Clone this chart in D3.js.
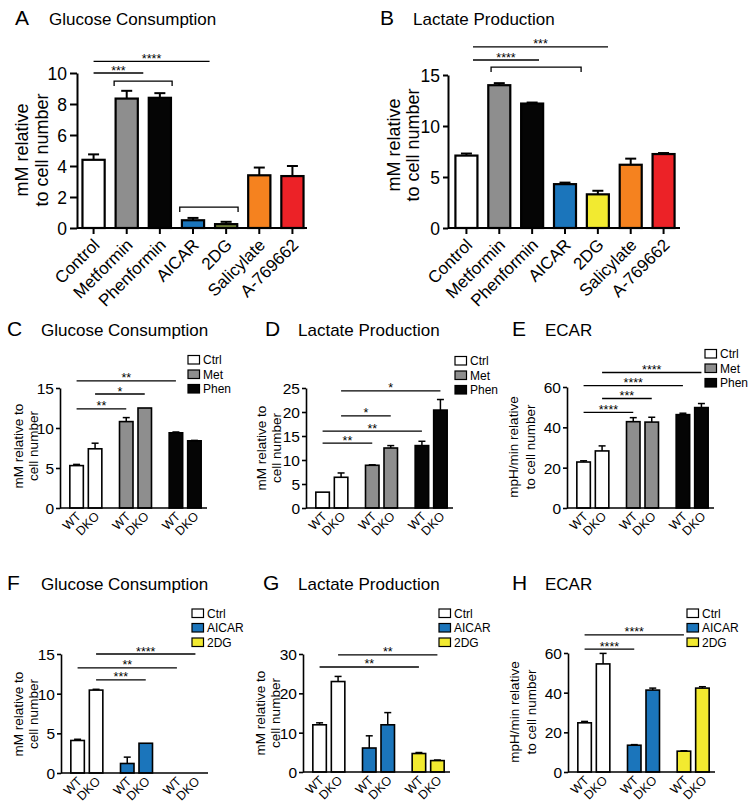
<!DOCTYPE html>
<html><head><meta charset="utf-8">
<script src="https://cdn.jsdelivr.net/npm/d3@7"></script>
<style>
body{margin:0;background:#fff}
svg{display:block}
text{font-family:"Liberation Sans",Arial,Helvetica,sans-serif;fill:#000}
</style>
</head><body>
<svg id="c" width="754" height="806"></svg>
<script>
// ---------- data ----------
const catsAB = ["Control","Metformin","Phenformin","AICAR","2DG","Salicylate","A-769662"];
const glucoseA = [4.4, 8.35, 8.4, 0.5, 0.25, 3.4, 3.35];
const glucoseAErr = [0.35, 0.5, 0.3, 0.15, 0.15, 0.5, 0.65];
const lactateB = [7.1, 14.0, 12.2, 4.3, 3.3, 6.2, 7.25];
const lactateBErr = [0.2, 0.2, 0.1, 0.15, 0.35, 0.6, 0.1];
const colorsA = ["#ffffff","#8e8e8e","#050505","#1b75bb","#74843a","#f5821f","#ec2227"];
const colorsB = ["#ffffff","#8e8e8e","#050505","#1b75bb","#f2ea30","#f5821f","#ec2227"];
const ticksA = [0,2,4,6,8,10];
const ticksB = [0,5,10,15];
const sigA = [{from:0,to:3.5,level:10.75,label:"****"},{from:0,to:1.5,level:10.0,label:"***"}];
const bracketsA = [{from:0.62,to:2.37,level:9.48},{from:2.6,to:4.36,level:1.35}];
const sigB = [{from:0.2,to:4.31,level:17.75,label:"***"},{from:0.2,to:2.21,level:16.47,label:"****"}];
const bracketsB = [{from:0.75,to:3.49,level:15.78}];

const genotypes = ["WT","DKO"];
const treatsCDE = ["Ctrl","Met","Phen"];
const treatsFGH = ["Ctrl","AICAR","2DG"];
const colorsCDE = ["#ffffff","#8e8e8e","#050505"];
const colorsFGH = ["#ffffff","#1b75bb","#f2ea30"];

// order: Ctrl WT, Ctrl DKO, Trt1 WT, Trt1 DKO, Trt2 WT, Trt2 DKO
const glucoseC = [5.3, 7.4, 10.8, 12.5, 9.4, 8.4];
const glucoseCErr = [0.15, 0.7, 0.5, 0, 0.1, 0.05];
const lactateD = [3.3, 6.4, 8.9, 12.5, 13.0, 20.4];
const lactateDErr = [0, 0.9, 0.1, 0.5, 0.9, 2.2];
const ecarE = [22.8, 28.3, 42.8, 42.6, 46.3, 49.8];
const ecarEErr = [0.6, 2.5, 2.0, 2.4, 0.7, 2.0];
const glucoseF = [4.1, 10.45, 1.2, 3.75, 0, 0];
const glucoseFErr = [0.15, 0.1, 0.8, 0, 0, 0];
const lactateG = [12.0, 23.0, 6.1, 12.0, 4.7, 2.9];
const lactateGErr = [0.5, 1.3, 3.1, 3.1, 0.25, 0.15];
const ecarH = [24.8, 54.5, 13.5, 41.3, 10.5, 42.3];
const ecarHErr = [0.7, 5.3, 0.3, 1.0, 0.2, 0.7];

const ticksC = [0,5,10,15], ticksD = [0,5,10,15,20,25], ticksE = [0,20,40,60];
const ticksF = [0,5,10,15], ticksG = [0,10,20,30], ticksH = [0,20,40,60];

const sigC = [{from:0,to:4,level:15.9,label:"**"},{from:1,to:3,level:14.25,label:"*"},{from:0,to:2,level:12.4,label:"**"}];
const sigD = [{from:1,to:5,level:24.4,label:"*"},{from:1,to:3,level:19.2,label:"*"},{from:0,to:4,level:16.0,label:"**"},{from:0,to:2,level:13.5,label:"**"}];
const sigE = [{from:1,to:5,level:67.2,label:"****"},{from:0,to:4,level:60.7,label:"****"},{from:1,to:3,level:54.3,label:"***"},{from:0,to:2,level:47.4,label:"****"}];
const sigF = [{from:1,to:5,level:15.0,label:"****"},{from:0,to:4,level:13.25,label:"**"},{from:1,to:3,level:11.75,label:"***"}];
const sigG = [{from:1,to:5,level:29.8,label:"**"},{from:0,to:4,level:26.7,label:"**"}];
const sigH = [{from:0,to:4,level:69.1,label:"****"},{from:0,to:2,level:62.0,label:"****"}];

// ---------- drawing ----------
const svg = d3.select("#c");

function title(letter, text, lx, tx, by){
  svg.append("text").attr("x",lx).attr("y",by).attr("font-size",21).text(letter);
  svg.append("text").attr("x",tx).attr("y",by).attr("font-size",17).text(text);
}
function ylab(lines, bx, cy, fs){
  lines.forEach((t,i)=>{
    svg.append("text").attr("transform",`translate(${bx[i]},${cy}) rotate(-90)`)
      .attr("text-anchor","middle").attr("font-size",fs).text(t);
  });
}
function sigLine(g, x1, x2, yy, label){
  g.append("line").attr("x1",x1).attr("x2",x2).attr("y1",yy).attr("y2",yy)
    .attr("stroke","#000").attr("stroke-width",1.3);
  if(label) g.append("text").attr("x",(x1+x2)/2).attr("y",yy+1.5).attr("text-anchor","middle")
    .attr("font-size",12.5).text(label);
}

function panelAB(o){
  const g = svg.append("g");
  const x = d3.scaleBand().domain(catsAB).range([o.x0+o.xoff, o.x0+o.xoff+o.w]).paddingInner(0.33).paddingOuter(0.165);
  const y = d3.scaleLinear().domain([0,o.max]).range([o.y0,o.yTop]);
  const xc = i => x(catsAB[0]) + x.bandwidth()/2 + i*x.step();
  g.selectAll("rect.bar").data(o.values).join("rect").attr("class","bar")
    .attr("x",(d,i)=>x(catsAB[i])).attr("width",x.bandwidth())
    .attr("y",d=>y(d)).attr("height",d=>o.y0-y(d))
    .attr("fill",(d,i)=>o.colors[i]).attr("stroke","#000").attr("stroke-width",2.2);
  o.values.forEach((d,i)=>{
    if(!o.errs[i]) return;
    const cx = xc(i), yt = y(d+o.errs[i]);
    g.append("line").attr("x1",cx).attr("x2",cx).attr("y1",y(d)).attr("y2",yt).attr("stroke","#000").attr("stroke-width",2);
    g.append("line").attr("x1",cx-5.5).attr("x2",cx+5.5).attr("y1",yt).attr("y2",yt).attr("stroke","#000").attr("stroke-width",2);
  });
  const ya = g.append("g").attr("transform",`translate(${o.x0},0)`)
    .call(d3.axisLeft(y).tickValues(o.ticks).tickSize(o.tick).tickPadding(o.pad).tickSizeOuter(0));
  ya.select(".domain").attr("stroke-width",2);
  ya.selectAll(".tick line").attr("stroke-width",2);
  ya.selectAll(".tick text").attr("font-size",17.5).attr("font-family",null).attr("dy","0.36em");
  g.append("line").attr("x1",o.x0).attr("x2",o.x0+o.axLen).attr("y1",o.y0).attr("y2",o.y0).attr("stroke","#000").attr("stroke-width",2);
  const xa = g.append("g").attr("transform",`translate(0,${o.y0})`)
    .call(d3.axisBottom(x).tickSize(6).tickSizeOuter(0));
  xa.select(".domain").remove();
  xa.selectAll(".tick line").attr("stroke-width",2);
  xa.selectAll(".tick text").attr("font-size",17).attr("font-family",null)
    .attr("x",0).attr("y",0).attr("dy",0).attr("text-anchor","end")
    .attr("transform","translate(7,18) rotate(-45)");
  o.sig.forEach(s=>sigLine(g, xc(s.from), xc(s.to), y(s.level), s.label));
  o.brackets.forEach(b=>{
    const x1=xc(b.from), x2=xc(b.to), yy=y(b.level);
    g.append("path").attr("d",`M${x1},${yy+5}V${yy}H${x2}V${yy+5}`).attr("fill","none").attr("stroke","#000").attr("stroke-width",1.3);
  });
}

function panelG(o){
  const g = svg.append("g");
  const xg = d3.scaleBand().domain(o.treats).range([o.x0+1, o.x0+150]);
  const xi = d3.scalePoint().domain(genotypes).range([-9.25, 9.25]);
  const y = d3.scaleLinear().domain([0,o.max]).range([o.y0,o.yTop]);
  const xc = i => xg(o.treats[Math.floor(i/2)]) + xg.bandwidth()/2 + xi(genotypes[i%2]);
  const bw = 13.5;
  o.values.forEach((d,i)=>{
    if(d<=0) return;
    g.append("rect").attr("x",xc(i)-bw/2).attr("width",bw).attr("y",y(d)).attr("height",o.y0-y(d))
      .attr("fill",o.colors[Math.floor(i/2)]).attr("stroke","#000").attr("stroke-width",1.6);
    if(o.errs[i]>0){
      const yt=y(d+o.errs[i]);
      g.append("line").attr("x1",xc(i)).attr("x2",xc(i)).attr("y1",y(d)).attr("y2",yt).attr("stroke","#000").attr("stroke-width",1.5);
      g.append("line").attr("x1",xc(i)-3.5).attr("x2",xc(i)+3.5).attr("y1",yt).attr("y2",yt).attr("stroke","#000").attr("stroke-width",1.5);
    }
  });
  const ya = g.append("g").attr("transform",`translate(${o.x0},0)`)
    .call(d3.axisLeft(y).tickValues(o.ticks).tickSize(4).tickPadding(2).tickSizeOuter(0));
  ya.select(".domain").attr("stroke-width",1.6);
  ya.selectAll(".tick line").attr("stroke-width",1.6);
  ya.selectAll(".tick text").attr("font-size",15.5).attr("font-family",null).attr("dy","0.36em");
  g.append("line").attr("x1",o.x0).attr("x2",o.x0+147).attr("y1",o.y0).attr("y2",o.y0).attr("stroke","#000").attr("stroke-width",1.6);
  d3.range(6).forEach(i=>{
    g.append("text").attr("transform",`translate(${xc(i)+5},${o.y0+9}) rotate(-45)`)
      .attr("text-anchor","end").attr("font-size",12.5).text(genotypes[i%2]);
  });
  o.sig.forEach(s=>sigLine(g, xc(s.from), xc(s.to), y(s.level), s.label));
  o.treats.forEach((t,k)=>{
    const ly = o.ly + k*14.5;
    g.append("rect").attr("x",o.lx).attr("y",ly).attr("width",11.5).attr("height",8.5)
      .attr("fill",o.colors[k]).attr("stroke","#000").attr("stroke-width",1.2);
    g.append("text").attr("x",o.lx+15).attr("y",ly+8.5).attr("font-size",12).text(t);
  });
}

// Row 1
title("A","Glucose Consumption",15,49,25);
title("B","Lactate Production",380,413,25);
panelAB({x0:77,xoff:0,w:232,y0:228,yTop:73,max:10,ticks:ticksA,tick:7,pad:3,values:glucoseA,errs:glucoseAErr,colors:colorsA,axLen:230,sig:sigA,brackets:bracketsA});
panelAB({x0:448,xoff:2,w:230,y0:228,yTop:75,max:15,ticks:ticksB,tick:5,pad:3,values:lactateB,errs:lactateBErr,colors:colorsB,axLen:232,sig:sigB,brackets:bracketsB});
ylab(["mM relative","to cell number"],[28,48],150,18);
ylab(["mM relative","to cell number"],[400,419],145,18);

// Row 2
title("C","Glucose Consumption",7,41,336);
title("D","Lactate Production",265,298,336);
title("E","ECAR",512,545,336);
panelG({x0:60,y0:508,yTop:388,max:15,ticks:ticksC,values:glucoseC,errs:glucoseCErr,treats:treatsCDE,colors:colorsCDE,sig:sigC,lx:188,ly:355.5});
panelG({x0:306,y0:508,yTop:388,max:25,ticks:ticksD,values:lactateD,errs:lactateDErr,treats:treatsCDE,colors:colorsCDE,sig:sigD,lx:455,ly:356.5});
panelG({x0:567,y0:508,yTop:387,max:60,ticks:ticksE,values:ecarE,errs:ecarEErr,treats:treatsCDE,colors:colorsCDE,sig:sigE,lx:705,ly:349.5});
ylab(["mM relative to","cell number"],[23,38],446,13.5);
ylab(["mM relative to","cell number"],[266,281],448,13.5);
ylab(["mpH/min relative","to cell number"],[518,535],447,13.5);

// Row 3
title("F","Glucose Consumption",7,41,590);
title("G","Lactate Production",263,298,590);
title("H","ECAR",512,545,590);
panelG({x0:61,y0:773,yTop:654,max:15,ticks:ticksF,values:glucoseF,errs:glucoseFErr,treats:treatsFGH,colors:colorsFGH,sig:sigF,lx:192,ly:609});
panelG({x0:303,y0:772,yTop:654,max:30,ticks:ticksG,values:lactateG,errs:lactateGErr,treats:treatsFGH,colors:colorsFGH,sig:sigG,lx:439,ly:609});
panelG({x0:568,y0:772,yTop:653,max:60,ticks:ticksH,values:ecarH,errs:ecarHErr,treats:treatsFGH,colors:colorsFGH,sig:sigH,lx:687,ly:609});
ylab(["mM relative to","cell number"],[23,38],714,13.5);
ylab(["mM relative to","cell number"],[265,280],713,13.5);
ylab(["mpH/min relative","to cell number"],[519,536],712,13.5);
</script>
</body></html>
